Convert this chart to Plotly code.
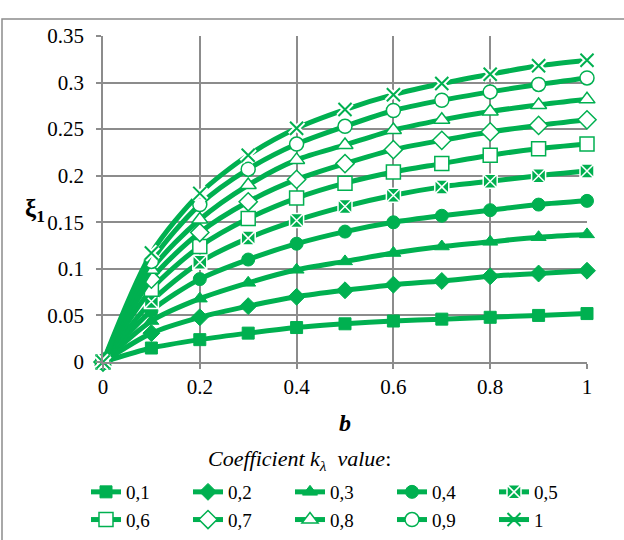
import plotly.graph_objects as go

b_values = [0, 0.1, 0.2, 0.3, 0.4, 0.5, 0.6, 0.7, 0.8, 0.9, 1.0]
k_labels = ["0,1", "0,2", "0,3", "0,4", "0,5", "0,6", "0,7", "0,8", "0,9", "1"]

xi_k01 = [0, 0.015, 0.024, 0.031, 0.037, 0.041, 0.044, 0.046, 0.048, 0.050, 0.052]
xi_k02 = [0, 0.031, 0.048, 0.060, 0.070, 0.077, 0.083, 0.087, 0.092, 0.095, 0.098]
xi_k03 = [0, 0.044, 0.068, 0.085, 0.099, 0.108, 0.117, 0.124, 0.129, 0.134, 0.137]
xi_k04 = [0, 0.055, 0.089, 0.110, 0.127, 0.140, 0.150, 0.157, 0.163, 0.169, 0.173]
xi_k05 = [0, 0.065, 0.107, 0.133, 0.152, 0.167, 0.179, 0.188, 0.194, 0.200, 0.205]
xi_k06 = [0, 0.078, 0.124, 0.154, 0.176, 0.192, 0.204, 0.213, 0.222, 0.229, 0.234]
xi_k07 = [0, 0.089, 0.139, 0.172, 0.196, 0.213, 0.228, 0.238, 0.247, 0.254, 0.260]
xi_k08 = [0, 0.099, 0.153, 0.190, 0.217, 0.233, 0.249, 0.260, 0.269, 0.276, 0.282]
xi_k09 = [0, 0.108, 0.169, 0.207, 0.234, 0.253, 0.270, 0.281, 0.290, 0.298, 0.305]
xi_k10 = [0, 0.117, 0.181, 0.222, 0.251, 0.271, 0.287, 0.299, 0.309, 0.318, 0.324]

series = [xi_k01, xi_k02, xi_k03, xi_k04, xi_k05, xi_k06, xi_k07, xi_k08, xi_k09, xi_k10]

GREEN = "#00B050"
WHITE = "#FFFFFF"
FONT = "Liberation Serif, Times New Roman, serif"

# (symbol, fill colour, outline colour, outline width, size)
styles = [
    ("square", GREEN, GREEN, 1, 12),
    ("diamond", GREEN, GREEN, 1, 13),
    ("triangle-up", GREEN, GREEN, 1, 13),
    ("circle", GREEN, GREEN, 1, 13),
    ("square-x", GREEN, WHITE, 1.5, 14),
    ("square", WHITE, GREEN, 1.5, 14),
    ("diamond", WHITE, GREEN, 1.5, 14),
    ("triangle-up", WHITE, GREEN, 1.5, 14),
    ("circle", WHITE, GREEN, 1.5, 14),
    ("x-thin", GREEN, GREEN, 2, 13),
]

fig = go.Figure()
for i, (vals, lab, st) in enumerate(zip(series, k_labels, styles)):
    sym, fill, outline, lw, size = st
    fig.add_trace(go.Scatter(
        x=b_values, y=vals, name=lab, mode="lines+markers",
        legendgroup=lab,
        line=dict(color=GREEN, width=5, shape="spline", smoothing=0.8),
        marker=dict(symbol=sym, color=fill, size=size,
                    line=dict(color=outline, width=lw)),
        cliponaxis=False,
    ))
    if sym == "x-thin":
        fig.add_trace(go.Scatter(
            x=b_values, y=vals, mode="markers", showlegend=False, legendgroup=lab,
            marker=dict(symbol="x-thin", size=size, line=dict(color=WHITE, width=6)),
            cliponaxis=False, hoverinfo="skip",
        ))
        fig.add_trace(go.Scatter(
            x=b_values, y=vals, mode="markers", showlegend=False, legendgroup=lab,
            marker=dict(symbol="x-thin", size=size, line=dict(color=GREEN, width=2)),
            cliponaxis=False, hoverinfo="skip",
        ))

axis_common = dict(
    showgrid=True, gridcolor="#8C8C8C", gridwidth=1.5,
    showline=True, linecolor="#8C8C8C", linewidth=1.5,
    ticks="outside", ticklen=5, tickcolor="#8C8C8C", tickwidth=1.5,
    zeroline=False,
    tickfont=dict(family=FONT, size=21, color="black"),
)

fig.update_layout(
    width=624, height=540,
    margin=dict(l=103, r=37, t=36, b=178, autoexpand=False),
    paper_bgcolor="white", plot_bgcolor="white",
    font=dict(family=FONT, size=21, color="black"),
    xaxis=dict(range=[0, 1], dtick=0.2, tick0=0,
               title=dict(text="<b><i>b</i></b>", font=dict(family=FONT, size=24), standoff=16),
               **axis_common),
    yaxis=dict(range=[0, 0.35], dtick=0.05, tick0=0, ticklabelstandoff=8, **axis_common),
    showlegend=True,
    legend=dict(
        orientation="h", xref="paper", yref="paper",
        x=(86 - 103) / 484, y=(362 - 473) / 326, xanchor="left", yanchor="top",
        entrywidth=57, entrywidthmode="pixels",
        itemwidth=30, tracegroupgap=0,
        font=dict(family=FONT, size=19, color="black"),
        bgcolor="rgba(0,0,0,0)",
    ),
    annotations=[
        dict(text="<b>ξ<sub>1</sub></b>", xref="paper", yref="paper",
             x=(35 - 103) / 484, y=(362 - 210) / 326, xanchor="center", yanchor="middle",
             showarrow=False, font=dict(family=FONT, size=25, color="black")),
        dict(text="<i>Coefficient k<sub>λ</sub>  value</i>:", xref="paper", yref="paper",
             x=(299 - 103) / 484, y=(362 - 460) / 326, xanchor="center", yanchor="middle",
             showarrow=False, font=dict(family=FONT, size=22, color="black")),
    ],
    shapes=[
        dict(type="rect", xref="paper", yref="paper",
             x0=(2 - 103) / 484, x1=(640 - 103) / 484,
             y0=(362 - 560) / 326, y1=1 + (36 - 19) / 326,
             line=dict(color="#8C8C8C", width=1.5), fillcolor="rgba(0,0,0,0)", layer="below"),
    ],
)

fig.write_html("out.html")
